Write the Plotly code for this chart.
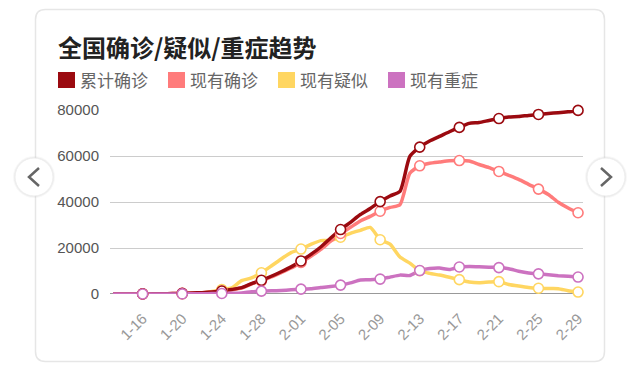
import plotly.graph_objects as go

dates = ["1-13","1-14","1-15","1-16","1-17","1-18","1-19","1-20","1-21","1-22","1-23","1-24",
         "1-25","1-26","1-27","1-28","1-29","1-30","1-31","2-01","2-02","2-03","2-04","2-05",
         "2-06","2-07","2-08","2-09","2-10","2-11","2-12","2-13","2-14","2-15","2-16","2-17",
         "2-18","2-19","2-20","2-21","2-22","2-23","2-24","2-25","2-26","2-27","2-28","2-29"]

cumulative = [41,41,41,45,62,121,198,291,440,571,830,1287,
              1975,2744,4515,5974,7711,9692,11791,14380,17205,20438,24324,28018,
              31161,34546,37198,40171,42638,44653,59804,63851,66492,68500,70548,72436,
              74185,74576,75465,76288,76936,77150,77658,78064,78497,78824,79251,79824]

current = [35,35,35,38,52,100,170,260,403,526,771,1208,
           1870,2613,4349,5739,7417,9308,11289,13748,16369,19381,22942,26302,
           28985,31774,33738,35982,37626,38800,52526,55748,56873,57416,57934,58016,
           57805,56303,54965,53284,51606,49824,47672,45604,43258,39919,37414,35329]

suspected = [0,0,0,0,0,0,0,54,37,393,1072,1965,
             2684,5794,6973,9239,12167,15238,17988,19544,21558,23214,23260,24702,
             26359,27657,28942,23589,21675,16067,13435,10109,8969,8228,7264,6242,
             5248,4922,5206,5365,4148,3434,2824,2491,2358,2308,1418,851]

severe = [0,0,0,0,0,0,0,35,102,95,177,237,
          324,461,976,1239,1370,1527,1795,2110,2296,2788,3219,3859,
          4821,6101,6188,6484,7333,8204,8030,10204,11053,11272,10644,11741,
          11977,11864,11633,11477,10968,9915,9126,8752,8346,7952,7664,7365]

series_names = ["累计确诊", "现有确诊", "现有疑似", "现有重症"]
colors = ["#9b0a10", "#ff7b7b", "#ffd661", "#cc72c0"]
y_ticks = [0, 20000, 40000, 60000, 80000]

xs = list(range(len(dates)))
tick_idx = [i for i in xs if (i - 3) % 4 == 0]

fig = go.Figure()
order = [2, 1, 0, 3]
data = [cumulative, current, suspected, severe]
for k in order:
    fig.add_trace(go.Scatter(
        x=xs, y=data[k], mode="lines", name=series_names[k],
        line=dict(color=colors[k], width=3.5, shape="spline", smoothing=0.6),
        showlegend=False, hoverinfo="skip", cliponaxis=False))
for k in order:
    fig.add_trace(go.Scatter(
        x=[xs[i] for i in tick_idx], y=[data[k][i] for i in tick_idx], mode="markers",
        marker=dict(size=10, color="white", line=dict(color=colors[k], width=1.6)),
        showlegend=False, hoverinfo="skip", cliponaxis=False))

font_family = "Noto Sans CJK SC, Liberation Sans, Arial, sans-serif"

fig.update_layout(
    width=640, height=369,
    margin=dict(l=110, r=57, t=110, b=75),
    paper_bgcolor="white", plot_bgcolor="white",
    font=dict(family=font_family),
    xaxis=dict(range=[-0.3, 47.5], tickmode="array", tickvals=tick_idx,
               ticktext=[dates[i] for i in tick_idx], tickangle=-45,
               tickfont=dict(size=15, color="#999999", family="Liberation Sans, Arial"),
               showgrid=False, zeroline=False, showline=False, ticks="",
               ticklabelstandoff=12),
    yaxis=dict(range=[0, 80000], tickvals=y_ticks, ticktext=[str(v) for v in y_ticks],
               tickfont=dict(size=15, color="#555555", family="Liberation Sans, Arial"),
               showgrid=True, gridcolor="#cccccc", gridwidth=1, zeroline=False,
               showline=False, ticks="", ticklabelstandoff=10),
)

shapes = []
def px_x(x):
    return (x - 110) / (640 - 110 - 57)
def px_y(y):
    return (369 - 75 - y) / (369 - 110 - 75)

L, T, R, B, rad = 35.5, 9.5, 604.5, 361.5, 10
def P(x, y):
    return f"{px_x(x):.5f} {px_y(y):.5f}"
path = (f"M {P(L+rad, T)} L {P(R-rad, T)} Q {P(R, T)} {P(R, T+rad)} "
        f"L {P(R, B-rad)} Q {P(R, B)} {P(R-rad, B)} L {P(L+rad, B)} "
        f"Q {P(L, B)} {P(L, B-rad)} L {P(L, T+rad)} Q {P(L, T)} {P(L+rad, T)} Z")
shapes.append(dict(type="path", xref="paper", yref="paper", path=path, layer="below",
                   line=dict(color="#e6e6e6", width=1.5), fillcolor="rgba(0,0,0,0)"))
shapes.append(dict(type="line", xref="paper", yref="y", x0=0, x1=1, y0=0, y1=0,
                   line=dict(color="#333333", width=1), layer="below"))

leg_x = [58, 168, 278, 388]
annotations = []
for i in range(4):
    shapes.append(dict(type="rect", xref="paper", yref="paper",
                       x0=px_x(leg_x[i]), x1=px_x(leg_x[i] + 17),
                       y0=px_y(72), y1=px_y(88), line=dict(width=0),
                       fillcolor=colors[i]))
    annotations.append(dict(xref="paper", yref="paper", x=px_x(leg_x[i] + 20), y=px_y(80),
                            xanchor="left", yanchor="middle", showarrow=False,
                            text=series_names[i], font=dict(size=17, color="#666666")))

# nav buttons with soft shadow
for cx, sgn in [(34, -1), (606, 1)]:
    cy = 177
    for rr, col in [(21, "rgba(0,0,0,0.03)"), (20, "rgba(0,0,0,0.04)")]:
        shapes.append(dict(type="circle", xref="paper", yref="paper",
                           x0=px_x(cx - rr), x1=px_x(cx + rr), y0=px_y(cy + rr), y1=px_y(cy - rr),
                           fillcolor=col, line=dict(width=0)))
    shapes.append(dict(type="circle", xref="paper", yref="paper",
                       x0=px_x(cx - 19), x1=px_x(cx + 19), y0=px_y(cy + 19), y1=px_y(cy - 19),
                       fillcolor="white", line=dict(color="#eeeeee", width=1)))
    tip = cx + sgn * 5
    end = cx - sgn * 5
    shapes.append(dict(type="path", xref="paper", yref="paper",
                       path=f"M {P(end, cy - 9)} L {P(tip, cy)} L {P(end, cy + 9)}",
                       line=dict(color="#666666", width=2.5), fillcolor="rgba(0,0,0,0)"))

annotations.append(dict(xref="paper", yref="paper", x=px_x(56), y=px_y(47),
                        xanchor="left", yanchor="middle", showarrow=False,
                        text="<b>全国确诊/疑似/重症趋势</b>",
                        font=dict(size=24, color="#222222")))

fig.update_layout(shapes=shapes, annotations=annotations)
fig.write_html("out.html")
